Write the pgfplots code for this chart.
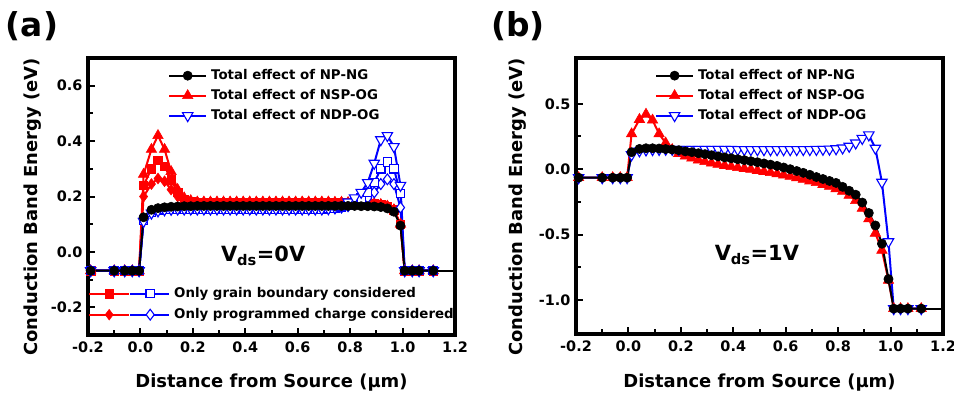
\documentclass[border=0pt]{standalone}
\usepackage{fontspec}
\setmainfont{DejaVu Sans}
\usepackage{pgfplots}
\pgfplotsset{compat=1.18}
\usepackage{pgfplotstable}

\pgfplotstableread{
x np nT nS nD dT dS dD
-0.19 -0.068 -0.068 -0.068 -0.068 -0.068 -0.068 -0.068
-0.1 -0.068 -0.068 -0.068 -0.068 -0.068 -0.068 -0.068
-0.06 -0.068 -0.068 -0.068 -0.068 -0.068 -0.068 -0.068
-0.031 -0.068 -0.068 -0.068 -0.068 -0.068 -0.068 -0.068
-0.005 -0.068 -0.068 -0.068 -0.068 -0.068 -0.068 -0.068
0.012 0.125 0.28 0.24 0.20 0.11 0.115 0.115
0.042 0.152 0.37 0.30 0.245 0.14 0.142 0.142
0.067 0.158 0.42 0.33 0.265 0.148 0.150 0.150
0.092 0.161 0.37 0.31 0.255 0.152 0.153 0.153
0.117 0.163 0.29 0.26 0.225 0.154 0.154 0.154
0.142 0.164 0.225 0.215 0.20 0.155 0.155 0.155
0.167 0.165 0.195 0.19 0.187 0.155 0.155 0.155
0.192 0.165 0.185 0.183 0.182 0.155 0.155 0.155
0.217 0.166 0.18 0.18 0.18 0.155 0.155 0.155
0.242 0.166 0.18 0.18 0.18 0.155 0.155 0.155
0.267 0.166 0.18 0.18 0.18 0.155 0.155 0.155
0.292 0.166 0.18 0.18 0.18 0.155 0.155 0.155
0.317 0.166 0.18 0.18 0.18 0.155 0.155 0.155
0.342 0.166 0.18 0.18 0.18 0.155 0.155 0.155
0.367 0.166 0.18 0.18 0.18 0.155 0.155 0.155
0.392 0.166 0.18 0.18 0.18 0.155 0.155 0.155
0.417 0.166 0.18 0.18 0.18 0.155 0.155 0.155
0.442 0.166 0.18 0.18 0.18 0.155 0.155 0.155
0.467 0.166 0.18 0.18 0.18 0.155 0.155 0.155
0.492 0.166 0.18 0.18 0.18 0.155 0.155 0.155
0.517 0.166 0.18 0.18 0.18 0.155 0.155 0.155
0.542 0.166 0.18 0.18 0.18 0.155 0.155 0.155
0.567 0.166 0.18 0.18 0.18 0.155 0.155 0.155
0.592 0.166 0.18 0.18 0.18 0.155 0.155 0.155
0.617 0.166 0.18 0.18 0.18 0.155 0.155 0.155
0.642 0.166 0.18 0.18 0.18 0.155 0.155 0.155
0.667 0.166 0.18 0.18 0.18 0.155 0.155 0.155
0.692 0.166 0.18 0.18 0.18 0.155 0.155 0.155
0.717 0.166 0.18 0.18 0.18 0.156 0.156 0.156
0.742 0.166 0.179 0.179 0.179 0.16 0.158 0.157
0.767 0.166 0.179 0.179 0.179 0.168 0.163 0.16
0.792 0.166 0.178 0.178 0.178 0.18 0.17 0.165
0.817 0.166 0.178 0.178 0.178 0.195 0.18 0.172
0.842 0.165 0.177 0.177 0.177 0.215 0.195 0.18
0.867 0.165 0.176 0.176 0.176 0.25 0.215 0.195
0.892 0.164 0.174 0.174 0.174 0.32 0.25 0.215
0.917 0.162 0.171 0.171 0.171 0.405 0.30 0.245
0.942 0.157 0.165 0.165 0.165 0.42 0.325 0.262
0.967 0.145 0.152 0.152 0.152 0.38 0.30 0.245
0.992 0.095 0.10 0.10 0.10 0.24 0.21 0.16
1.008 -0.068 -0.068 -0.068 -0.068 -0.068 -0.068 -0.068
1.037 -0.068 -0.068 -0.068 -0.068 -0.068 -0.068 -0.068
1.063 -0.068 -0.068 -0.068 -0.068 -0.068 -0.068 -0.068
1.117 -0.068 -0.068 -0.068 -0.068 -0.068 -0.068 -0.068
}\tabA

\pgfplotstableread{
x np nsp ndp
-0.19 -0.065 -0.065 -0.065
-0.1 -0.065 -0.065 -0.065
-0.06 -0.065 -0.065 -0.065
-0.031 -0.065 -0.065 -0.065
-0.005 -0.065 -0.065 -0.065
0.012 0.13 0.27 0.11
0.042 0.155 0.38 0.14
0.067 0.16 0.42 0.147
0.092 0.16 0.375 0.15
0.117 0.158 0.27 0.151
0.142 0.154 0.20 0.152
0.167 0.15 0.15 0.152
0.192 0.145 0.12 0.152
0.217 0.136 0.10 0.152
0.242 0.13 0.085 0.152
0.267 0.122 0.07 0.152
0.292 0.115 0.058 0.152
0.317 0.107 0.047 0.152
0.342 0.098 0.037 0.152
0.367 0.09 0.028 0.151
0.392 0.083 0.02 0.151
0.417 0.076 0.012 0.15
0.442 0.069 0.005 0.15
0.467 0.061 -0.002 0.15
0.492 0.053 -0.01 0.149
0.517 0.044 -0.018 0.149
0.542 0.035 -0.026 0.149
0.567 0.025 -0.035 0.149
0.592 0.013 -0.045 0.149
0.617 0.0 -0.055 0.149
0.642 -0.014 -0.066 0.15
0.667 -0.028 -0.078 0.15
0.692 -0.043 -0.09 0.15
0.717 -0.06 -0.103 0.151
0.742 -0.075 -0.117 0.152
0.767 -0.09 -0.132 0.153
0.792 -0.105 -0.15 0.156
0.817 -0.135 -0.17 0.162
0.842 -0.165 -0.20 0.175
0.867 -0.195 -0.24 0.20
0.892 -0.255 -0.30 0.235
0.917 -0.335 -0.38 0.262
0.942 -0.43 -0.49 0.16
0.967 -0.57 -0.62 -0.10
0.992 -0.84 -0.85 -0.555
1.012 -1.066 -1.066 -1.066
1.038 -1.066 -1.066 -1.066
1.066 -1.066 -1.066 -1.066
1.117 -1.066 -1.066 -1.066
}\tabB

\pgfplotsset{
  frameaxis/.style={
    scale only axis, width=367bp,
    xmin=-0.2, xmax=1.2,
    xtick={-0.2,0,0.2,0.4,0.6,0.8,1.0,1.2},
    minor x tick num=1, minor y tick num=1,
    tick align=inside, tick pos=left,
    axis on top,
    axis line style={line width=3.2bp},
    every outer x axis line/.append style={line width=3.2bp},
    every outer y axis line/.append style={line width=3.2bp},
    every tick/.style={black, line width=2bp},
    major tick length=6.5bp, minor tick length=5bp,
    scaled ticks=false,
    ticklabel style={font=\fontsize{14.5}{14.5}\selectfont\bfseries,
      /pgf/number format/fixed, /pgf/number format/fixed zerofill,
      /pgf/number format/precision=1, /pgf/number format/assume math mode=true},
    yticklabel style={xshift=-2bp},
    xticklabel style={yshift=-3bp},
    label style={font=\fontsize{18}{18}\selectfont\bfseries},
    xlabel={Distance from Source (μm)},
    ylabel={Conduction Band Energy (eV)},
    legend cell align=left,
    legend style={draw=none, fill=none, inner sep=0pt, row sep=5bp,
      font=\fontsize{13.4}{13.4}\selectfont\bfseries,
      nodes={text height=10bp, text depth=3bp, inner ysep=1bp, inner xsep=4bp}},
    legend image code/.code={\draw[mark repeat=2,mark phase=2] plot coordinates {(0bp,0bp) (18.5bp,0bp) (37bp,0bp)};},
  },
  sBlack/.style={black, line width=2bp, mark=*, mark size=4.6bp, mark options={solid, line width=0.6bp}},
  sRedT/.style={red, line width=2bp, mark=triangle*, mark size=6bp, mark options={solid, line width=0.6bp}},
  sRedS/.style={red, line width=2bp, mark=square*, mark size=4.2bp, mark options={solid, line width=0.6bp}},
  sRedD/.style={red, line width=2bp, mark=diamond*, mark size=5.4bp, mark options={solid, line width=0.6bp}},
  sBlueT/.style={blue, line width=2bp, mark=triangle*, mark size=6bp, mark options={solid, rotate=180, fill=white, line width=1.1bp}},
  sBlueS/.style={blue, line width=2bp, mark=square*, mark size=4.2bp, mark options={solid, fill=white, line width=1.1bp}},
  sBlueD/.style={blue, line width=2bp, mark=diamond*, mark size=5.4bp, mark options={solid, fill=white, line width=1.1bp}},
}

\begin{document}
\begin{tikzpicture}
\useasboundingbox (0,0) rectangle (954bp,396bp);

% ---------------- panel (a) ----------------
\begin{axis}[frameaxis, at={(88bp,61bp)}, anchor=south west, height=277bp,
  ymin=-0.3, ymax=0.7, ytick={-0.2,0,0.2,0.4,0.6},
  xlabel style={at={(axis description cs:0.5,-0.173)}, anchor=center},
  ylabel style={at={(axis description cs:-0.150,0.462)}, anchor=center},
  legend style={at={(rel axis cs:0.218,0.964)}, anchor=north west}]
\addplot[sRedD, forget plot] table[x=x, y=nD] {\tabA};
\addplot[sRedS, forget plot] table[x=x, y=nS] {\tabA};
\addplot[sRedT, forget plot] table[x=x, y=nT] {\tabA};
\addplot[sBlueD, forget plot] table[x=x, y=dD] {\tabA};
\addplot[sBlueS, forget plot] table[x=x, y=dS] {\tabA};
\addplot[sBlueT, forget plot] table[x=x, y=dT] {\tabA};
\addplot[sBlack, forget plot] table[x=x, y=np] {\tabA};
\addplot[black, line width=2bp, forget plot] coordinates {(1.117,-0.068) (1.2,-0.068)};
\addlegendimage{sBlack}
\addlegendentry{Total effect of NP-NG}
\addlegendimage{sRedT}
\addlegendentry{Total effect of NSP-OG}
\addlegendimage{sBlueT}
\addlegendentry{Total effect of NDP-OG}
\node[font=\fontsize{21}{21}\selectfont\bfseries] at (axis cs:0.468,-0.015) {V\textsubscript{ds}=0V};
\end{axis}

% second legend of panel (a)
\begin{axis}[at={(88bp,61bp)}, anchor=south west, scale only axis, width=367bp, height=277bp,
  hide axis, xmin=0, xmax=1, ymin=0, ymax=1,
  legend cell align=left,
  legend style={at={(rel axis cs:0,0.177)}, anchor=north west, draw=none, fill=none, inner sep=0pt, row sep=6bp,
    font=\fontsize{13.4}{13.4}\selectfont\bfseries,
    nodes={text height=10bp, text depth=3bp, inner ysep=1bp, inner xsep=4bp}}]
\addlegendimage{legend image code/.code={
  \draw[red, line width=2bp] (0bp,0bp) -- (40bp,0bp);
  \draw[red, mark=square*, mark size=4.2bp] plot coordinates {(20bp,0bp)};
  \draw[blue, line width=2bp] (41bp,0bp) -- (80bp,0bp);
  \draw[blue, line width=1.1bp, mark=square*, mark size=4.2bp, mark options={fill=white}] plot coordinates {(61bp,0bp)};
}}
\addlegendentry{Only grain boundary considered}
\addlegendimage{legend image code/.code={
  \draw[red, line width=2bp] (0bp,0bp) -- (40bp,0bp);
  \draw[red, mark=diamond*, mark size=5.4bp] plot coordinates {(20bp,0bp)};
  \draw[blue, line width=2bp] (41bp,0bp) -- (80bp,0bp);
  \draw[blue, line width=1.1bp, mark=diamond*, mark size=5.4bp, mark options={fill=white}] plot coordinates {(61bp,0bp)};
}}
\addlegendentry{Only programmed charge considered}
\end{axis}

% ---------------- panel (b) ----------------
\begin{axis}[frameaxis, at={(576bp,62bp)}, anchor=south west, height=276bp,
  ymin=-1.26, ymax=0.85, ytick={-1,-0.5,0,0.5},
  xlabel style={at={(axis description cs:0.5,-0.177)}, anchor=center},
  ylabel style={at={(axis description cs:-0.158,0.46)}, anchor=center},
  legend style={at={(rel axis cs:0.215,0.964)}, anchor=north west}]
\addplot[sRedT, forget plot] table[x=x, y=nsp] {\tabB};
\addplot[sBlueT, forget plot] table[x=x, y=ndp] {\tabB};
\addplot[sBlack, forget plot] table[x=x, y=np] {\tabB};
\addplot[black, line width=2bp, forget plot] coordinates {(1.117,-1.066) (1.2,-1.066)};
\addlegendimage{sBlack}
\addlegendentry{Total effect of NP-NG}
\addlegendimage{sRedT}
\addlegendentry{Total effect of NSP-OG}
\addlegendimage{sBlueT}
\addlegendentry{Total effect of NDP-OG}
\node[font=\fontsize{21}{21}\selectfont\bfseries] at (axis cs:0.49,-0.656) {V\textsubscript{ds}=1V};
\end{axis}

\node[font=\fontsize{33}{33}\selectfont\bfseries] at (32bp,370bp) {(a)};
\node[font=\fontsize{33}{33}\selectfont\bfseries] at (518bp,370bp) {(b)};
\end{tikzpicture}
\end{document}
